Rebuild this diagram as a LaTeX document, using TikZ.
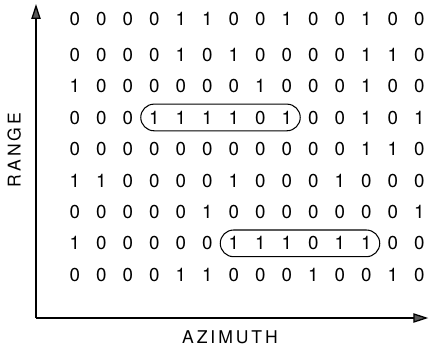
\documentclass[tikz,border=0pt]{standalone}
\usepackage{fontspec}
\setmainfont{TeX Gyre Heros}
\usetikzlibrary{arrows.meta, calc, positioning, matrix, fit}

\tikzset{
  bit/.style={minimum width=0.795cm, minimum height=0.94cm, inner sep=0pt, font=\fontsize{16}{18}\selectfont},
  run/.style={draw, line width=0.9pt, inner sep=0pt, minimum height=0.8cm, rounded corners=0.4cm},
  axis/.style={line width=1.1pt, -{Triangle[length=0.45cm, width=0.28cm, fill=black!65]}},
  axislabel/.style={font=\fontsize{15}{17}\selectfont, text depth=0pt}
}

\begin{document}
\begin{tikzpicture}
\useasboundingbox (0,0) rectangle (12.9,10.47);
% detection matrix
\matrix (grid) [matrix of nodes, nodes={bit}, column sep=0pt, row sep=0pt] at (7.41,6.06) {
0 & 0 & 0 & 0 & 1 & 1 & 0 & 0 & 1 & 0 & 0 & 1 & 0 & 0 \\[0.12cm]
0 & 0 & 0 & 0 & 1 & 0 & 1 & 0 & 0 & 0 & 0 & 1 & 1 & 0 \\
1 & 0 & 0 & 0 & 0 & 0 & 0 & 1 & 0 & 0 & 0 & 1 & 0 & 0 \\
0 & 0 & 0 & 1 & 1 & 1 & 1 & 0 & 1 & 0 & 0 & 1 & 0 & 1 \\
0 & 0 & 0 & 0 & 0 & 0 & 0 & 0 & 0 & 0 & 0 & 1 & 1 & 0 \\
1 & 1 & 0 & 0 & 0 & 0 & 1 & 0 & 0 & 0 & 1 & 0 & 0 & 0 \\
0 & 0 & 0 & 0 & 0 & 1 & 0 & 0 & 0 & 0 & 0 & 0 & 0 & 1 \\
1 & 0 & 0 & 0 & 0 & 0 & 1 & 1 & 1 & 0 & 1 & 1 & 0 & 0 \\
0 & 0 & 0 & 0 & 1 & 1 & 0 & 0 & 0 & 1 & 0 & 0 & 1 & 0 \\
};
% circled runs
\node[run, fit=(grid-4-4.west)(grid-4-9.east)] (runA) {};
\node[run, fit=(grid-8-7.west)(grid-8-12.east)] (runB) {};
% axes
\coordinate (origin) at (1.08,0.93);
\coordinate (rangetip) at (1.08,10.35);
\coordinate (azimtip) at (12.85,0.93);
\draw[axis] (origin) -- (rangetip);
\draw[axis] (origin) -- (azimtip);
\node[axislabel, rotate=90] (range) at (0.42,5.97) {R\,A\,N\,G\,E};
\node[axislabel] (azimuth) at (6.9,0.36) {A\,Z\,I\,M\,U\,T\,H};
\end{tikzpicture}
\end{document}
